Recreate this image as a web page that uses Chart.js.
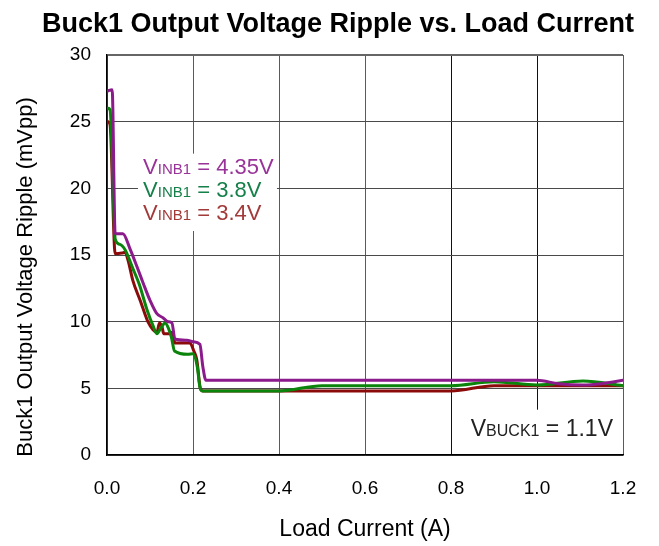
<!DOCTYPE html>
<html>
<head>
<meta charset="utf-8">
<script src="https://cdn.jsdelivr.net/npm/chart.js@4.4.1/dist/chart.umd.min.js"></script>
<style>
  html, body { margin: 0; padding: 0; background: #fff; }
  #wrap { width: 659px; height: 546px; }
</style>
</head>
<body>
<div id="wrap"><canvas id="ripple"></canvas></div>
<script>
// ripple (mVpp) vs load current (A), one pair per input voltage
const load435 = [0.002, 0.012, 0.019, 0.037, 0.053, 0.070, 0.084, 0.100, 0.116, 0.130, 0.142, 0.151, 0.158, 0.186, 0.200, 0.216, 0.223, 0.230, 0.40, 0.60, 0.80, 1.00, 1.05, 1.107, 1.15, 1.20];
const ripple435 = [27.3, 27.4, 16.6, 16.6, 15.5, 14.1, 12.9, 11.6, 10.6, 10.3, 10.0, 9.9, 8.7, 8.6, 8.5, 8.3, 6.6, 5.6, 5.6, 5.6, 5.6, 5.6, 5.35, 5.25, 5.35, 5.6];

const load38 = [0.002, 0.007, 0.019, 0.030, 0.042, 0.060, 0.075, 0.093, 0.107, 0.116, 0.125, 0.135, 0.143, 0.150, 0.157, 0.188, 0.200, 0.210, 0.216, 0.222, 0.40, 0.50, 0.80, 0.90, 1.00, 1.107, 1.20];
const ripple38 = [26.0, 25.9, 16.2, 15.8, 15.4, 14.0, 12.8, 10.9, 9.7, 9.1, 9.5, 9.9, 9.5, 8.8, 7.8, 7.55, 7.6, 6.6, 5.1, 4.8, 4.8, 5.2, 5.2, 5.5, 5.25, 5.55, 5.2];

const load34 = [0.002, 0.007, 0.019, 0.035, 0.042, 0.049, 0.060, 0.077, 0.088, 0.095, 0.107, 0.116, 0.122, 0.128, 0.132, 0.145, 0.152, 0.158, 0.193, 0.202, 0.209, 0.217, 0.223, 0.80, 0.90, 1.00, 1.20];
const ripple34 = [25.0, 24.8, 15.1, 15.15, 15.2, 14.6, 13.1, 11.6, 10.6, 10.0, 9.4, 9.2, 9.9, 9.6, 9.1, 9.1, 9.2, 8.4, 8.4, 7.8, 7.1, 5.0, 4.8, 4.8, 5.2, 5.2, 5.2];

const xTicks = [0, 0.2, 0.4, 0.6, 0.8, 1.0, 1.2];
const yTicks = [0, 5, 10, 15, 20, 25, 30];

const seriesNames = ["4.35V", "3.8V", "3.4V"];
const lineColors = ["#8b1a8b", "#0b840b", "#8b0a0a"];
const textColors = ["#993399", "#16804a", "#a33a3a"];

const FONT = "'Liberation Sans', Arial, sans-serif";

function pts(xs, ys) {
  return xs.map((x, i) => ({ x: x, y: ys[i] }));
}

// "V" + small caps subscript + rest, all on one baseline
function subText(ctx, x, y, main, sub, rest, color, size) {
  ctx.fillStyle = color;
  ctx.textBaseline = "alphabetic";
  ctx.textAlign = "left";
  ctx.font = size + "px " + FONT;
  ctx.fillText(main, x, y);
  x += ctx.measureText(main).width;
  ctx.font = Math.round(size * 0.69) + "px " + FONT;
  ctx.fillText(sub, x, y);
  x += ctx.measureText(sub).width;
  ctx.font = size + "px " + FONT;
  ctx.fillText(rest, x, y);
}

// ===== white boxes behind the notes + all the free text =====
const notesPlugin = {
  id: "notes",
  beforeDatasetsDraw(chart) {
    const { ctx, scales } = chart;
    const xs = scales.x, ys = scales.y;
    ctx.save();
    ctx.fillStyle = "#fff";
    // legend notes
    let l = xs.getPixelForValue(0.072), r = xs.getPixelForValue(0.40);
    let t = ys.getPixelForValue(22.6), b = ys.getPixelForValue(16.8);
    ctx.fillRect(l, t, r - l - 2, b - t);
    // Vbuck note
    l = xs.getPixelForValue(0.82); r = xs.getPixelForValue(1.2);
    t = ys.getPixelForValue(3.4); b = ys.getPixelForValue(0);
    ctx.fillRect(l, t, r - l - 1, b - t - 1);
    ctx.restore();
  },
  afterDraw(chart) {
    const { ctx, scales, chartArea } = chart;
    const xs = scales.x, ys = scales.y;
    ctx.save();

    // title
    ctx.fillStyle = "#000";
    ctx.font = "bold 27px " + FONT;
    ctx.textAlign = "center";
    ctx.textBaseline = "alphabetic";
    ctx.fillText("Buck1 Output Voltage Ripple vs. Load Current", 338, 32);

    // axis titles
    ctx.font = "23px " + FONT;
    ctx.fillText("Load Current (A)", (chartArea.left + chartArea.right) / 2, 536);
    ctx.font = "22px " + FONT;
    ctx.save();
    ctx.translate(26, 277);
    ctx.rotate(-Math.PI / 2);
    ctx.textBaseline = "middle";
    ctx.fillText("Buck1 Output Voltage Ripple (mVpp)", 0, 0);
    ctx.restore();

    // series notes
    const noteX = xs.getPixelForValue(0.084);
    const noteY = [21.1, 19.37, 17.65];
    seriesNames.forEach((name, i) => {
      subText(ctx, noteX, ys.getPixelForValue(noteY[i]), "V", "INB1", " = " + name, textColors[i], 22);
    });

    subText(ctx, xs.getPixelForValue(0.846), ys.getPixelForValue(1.43), "V", "BUCK1", " = 1.1V", "#222", 23);
    ctx.restore();
  }
};

const ctx = document.getElementById("ripple").getContext("2d");

new Chart(ctx, {
  type: "line",
  data: {
    datasets: [
      { data: pts(load435, ripple435), borderColor: lineColors[0], order: 0 },
      { data: pts(load38, ripple38), borderColor: lineColors[1], order: 1 },
      { data: pts(load34, ripple34), borderColor: lineColors[2], order: 2 }
    ].map((d) => Object.assign(d, {
      borderWidth: 3,
      pointRadius: 0,
      fill: false,
      cubicInterpolationMode: "monotone",
      borderJoinStyle: "round",
      borderCapStyle: "round"
    }))
  },
  options: {
    responsive: true,
    maintainAspectRatio: false,
    animation: false,
    layout: { padding: { top: 55, right: 36, left: 0, bottom: 0 } },
    plugins: {
      legend: { display: false },
      title: { display: false },
      tooltip: { enabled: false }
    },
    scales: {
      x: {
        type: "linear",
        min: xTicks[0],
        max: xTicks[xTicks.length - 1],
        afterBuildTicks(s) { s.ticks = xTicks.map((v) => ({ value: v })); },
        afterFit(s) { s.height = 91; },
        ticks: {
          color: "#000",
          font: { family: FONT, size: 19 },
          padding: 22,
          maxRotation: 0,
          callback: (v) => Number(v).toFixed(1)
        },
        grid: {
          drawTicks: false,
          color: (c) => (c.tick && (c.tick.value === 0.8 || c.tick.value === 1.0) ? "#111" : "#5a5a5a"),
          lineWidth: 1
        },
        border: { color: "#000", width: 1.5 }
      },
      y: {
        min: yTicks[0],
        max: yTicks[yTicks.length - 1],
        afterBuildTicks(s) { s.ticks = yTicks.map((v) => ({ value: v })); },
        afterFit(s) { s.width = 107; },
        ticks: {
          color: "#000",
          font: { family: FONT, size: 19 },
          padding: 16
        },
        grid: {
          drawTicks: false,
          color: (c) => (c.tick && c.tick.value === 30 ? "#666" : "#4a4a4a"),
          lineWidth: (c) => (c.tick && c.tick.value === 30 ? 2 : 1)
        },
        border: { color: "#000", width: 1.5 }
      }
    }
  },
  plugins: [notesPlugin]
});
</script>
</body>
</html>
